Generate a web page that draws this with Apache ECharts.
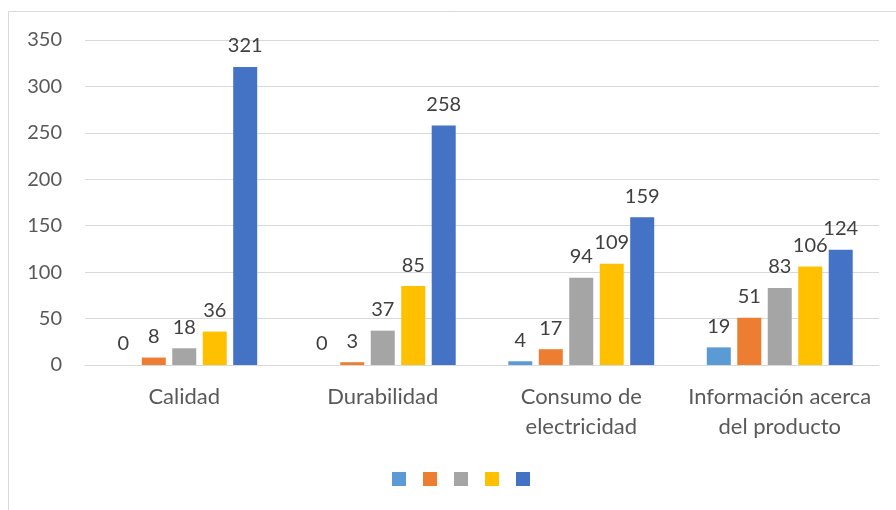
<!DOCTYPE html>
<html>
<head>
<meta charset="utf-8">
<script src="https://cdn.jsdelivr.net/npm/echarts@6/dist/echarts.min.js"></script>
<style>
  html, body { margin: 0; padding: 0; background: #fff; }
  #chart { width: 896px; height: 510px; }
</style>
</head>
<body>
<div id="chart"></div>
<script>
// Categories and series values
const categories = ['Calidad', 'Durabilidad', 'Consumo de\nelectricidad', 'Información acerca\ndel producto'];
const serie1 = [0, 0, 4, 19];
const serie2 = [8, 3, 17, 51];
const serie3 = [18, 37, 94, 83];
const serie4 = [36, 85, 109, 106];
const serie5 = [321, 258, 159, 124];
const yTicks = [0, 50, 100, 150, 200, 250, 300, 350];

const seriesData = [serie1, serie2, serie3, serie4, serie5];
const seriesNames = ['Serie 1', 'Serie 2', 'Serie 3', 'Serie 4', 'Serie 5'];
const colors = ['#5B9BD5', '#ED7D31', '#A5A5A5', '#FFC000', '#4472C4'];
const font = 'Lato, "Open Sans", sans-serif';

const chart = echarts.init(document.getElementById('chart'), null, { renderer: 'canvas' });

chart.setOption({
  animation: false,
  color: colors,
  textStyle: { fontFamily: font },
  graphic: [{
    type: 'rect',
    shape: { x: 8.5, y: 11.5, width: 1000, height: 1000 },
    style: { fill: 'none', stroke: '#d9d9d9', lineWidth: 1 },
    silent: true
  }],
  grid: { left: 85, right: 17, top: 40, bottom: 145, containLabel: false },
  legend: {
    top: 467,
    left: 387,
    icon: 'rect',
    itemWidth: 14,
    itemHeight: 14,
    itemGap: 17,
    formatter: () => '',
    selectedMode: false,
    data: seriesNames
  },
  xAxis: {
    type: 'category',
    data: categories,
    axisLine: { lineStyle: { color: '#d9d9d9', width: 1 } },
    axisTick: { show: false },
    axisLabel: { color: '#595959', fontSize: 22, fontFamily: font, margin: 17, lineHeight: 30, interval: 0 }
  },
  yAxis: {
    type: 'value',
    min: yTicks[0],
    max: yTicks[yTicks.length - 1],
    interval: 50,
    axisLine: { show: false },
    axisTick: { show: false },
    splitLine: { lineStyle: { color: '#d9d9d9', width: 1 } },
    axisLabel: { color: '#595959', fontSize: 20, fontFamily: font, margin: 23 }
  },
  series: seriesData.map((d, i) => ({
    name: seriesNames[i],
    type: 'bar',
    data: d,
    barWidth: 24,
    barGap: '27%',
    itemStyle: { color: colors[i] },
    label: {
      show: true,
      position: 'top',
      distance: 11,
      color: '#404040',
      fontSize: 20,
      fontFamily: font
    }
  }))
});
</script>
</body>
</html>
